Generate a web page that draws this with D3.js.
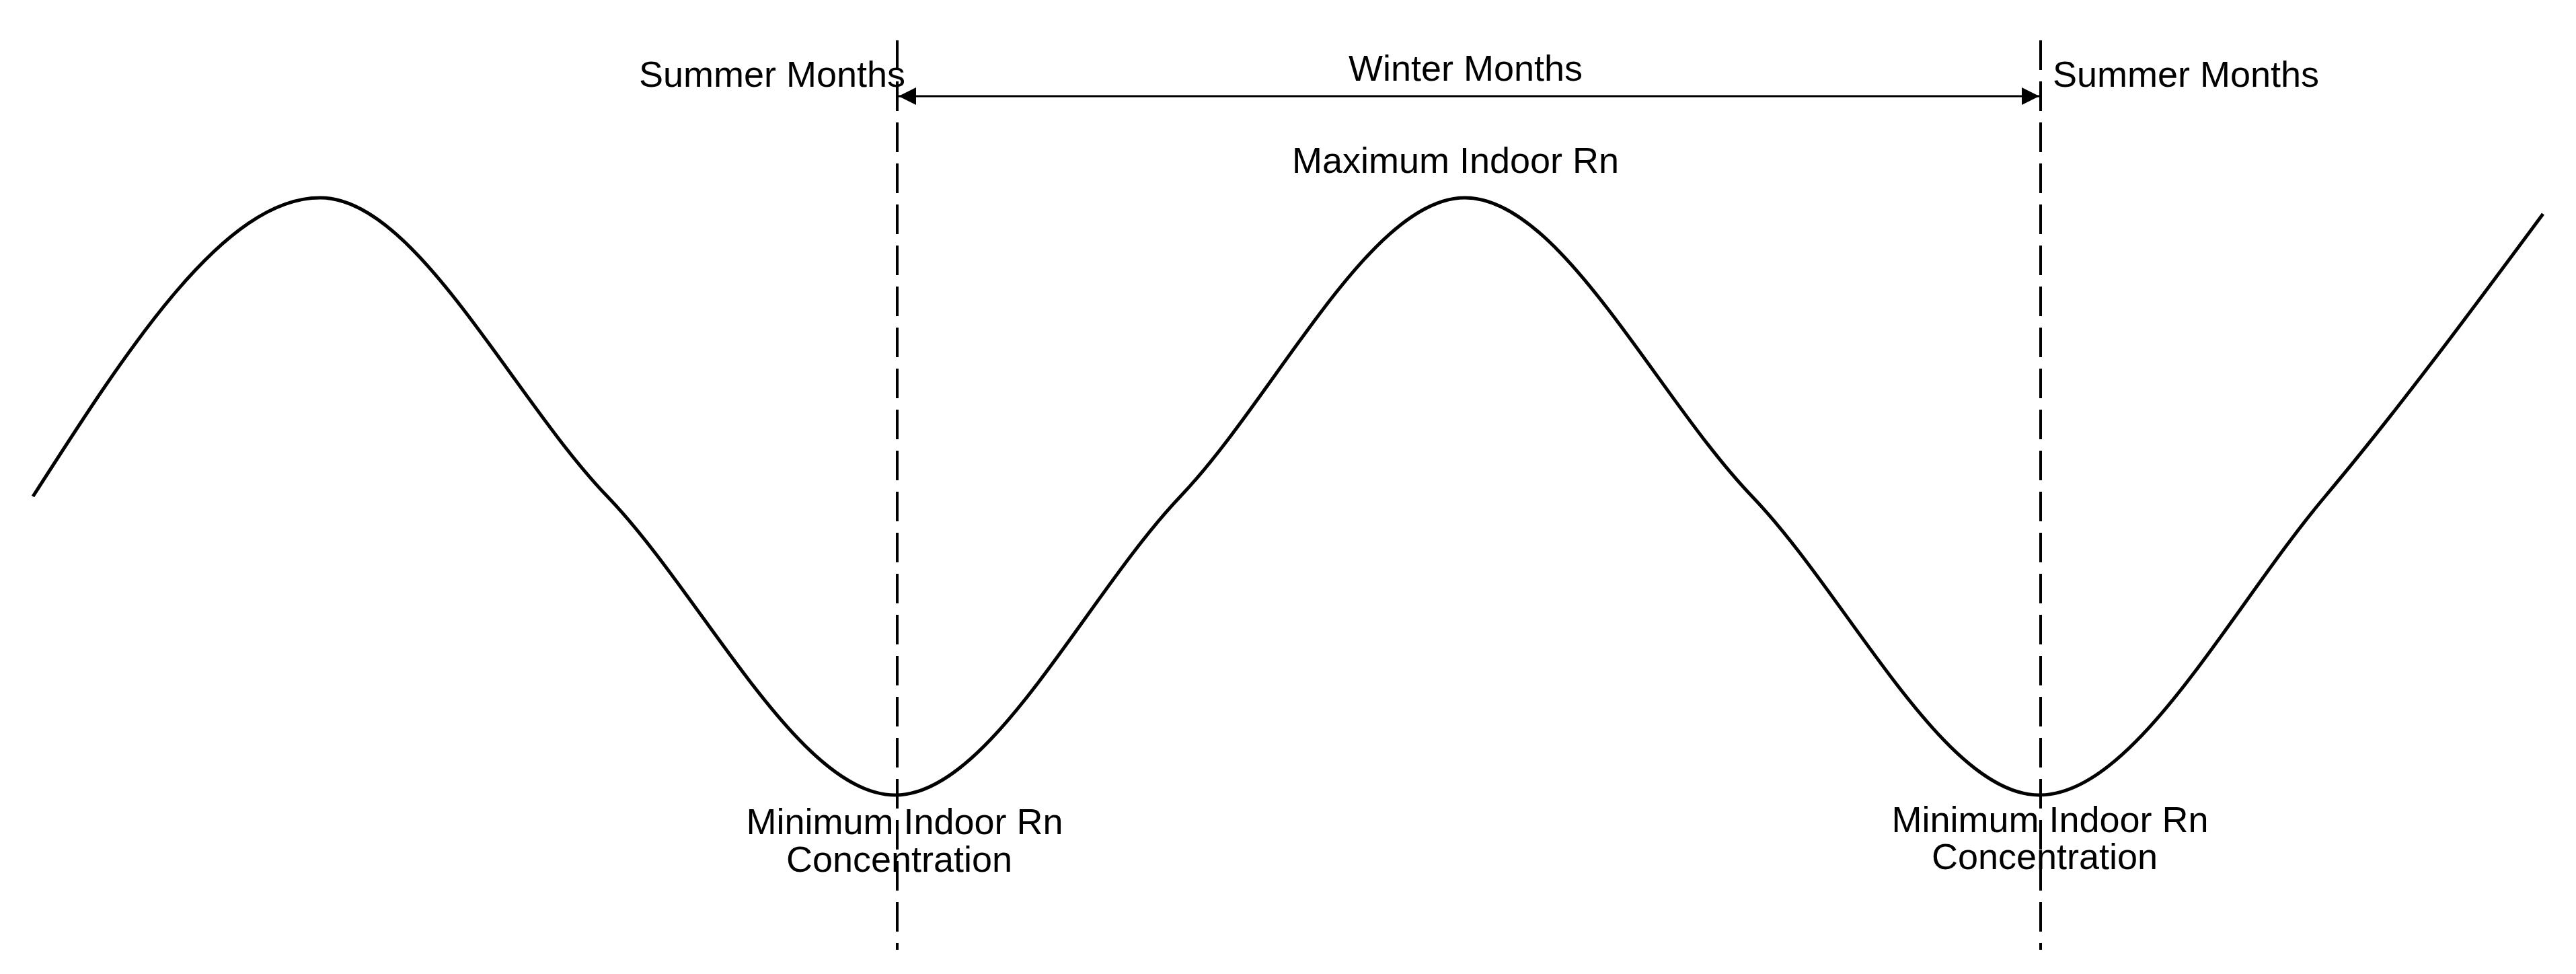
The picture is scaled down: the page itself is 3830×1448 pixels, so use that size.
<!DOCTYPE html>
<html>
<head>
<meta charset="utf-8">
<script src="https://cdn.jsdelivr.net/npm/d3@7"></script>
<style>
  html, body { margin: 0; padding: 0; background: #fff; }
  text { font-family: "Liberation Sans", Arial, sans-serif; font-size: 54px; fill: #000; }
</style>
</head>
<body>
<svg width="3830" height="1448"></svg>
<script>
let svg = d3.select("svg");

// seasonal indoor Rn curve (time position, relative level 0 = min, 1 = max)
let times = [49, 476, 903, 1331, 1755, 2178, 2605, 3032, 3457, 3781];
let levels = [0.5, 1, 0.5, 0, 0.5, 1, 0.5, 0, 0.5, 0.973];

// season boundaries (minimum Rn)
let boundaries = [1334, 3034];

let x = d3.scaleLinear().domain([0, 3830]).range([0, 3830]);
let y = d3.scaleLinear().domain([0, 1]).range([1182, 294]);

let defs = svg.append("defs");
defs.append("marker")
  .attr("id", "head")
  .attr("viewBox", "0 0 10 10")
  .attr("refX", 10)
  .attr("refY", 5)
  .attr("markerUnits", "userSpaceOnUse")
  .attr("markerWidth", 26)
  .attr("markerHeight", 26)
  .attr("orient", "auto-start-reverse")
  .append("path")
  .attr("d", "M0,0 L10,5 L0,10 Z")
  .attr("fill", "#000");

//dashed boundaries
svg.selectAll("line.bound")
  .data(boundaries)
  .enter()
  .append("line")
  .attr("class", "bound")
  .attr("x1", d => x(d))
  .attr("x2", d => x(d))
  .attr("y1", 60)
  .attr("y2", 1412)
  .attr("stroke", "#000")
  .attr("stroke-width", 4)
  .attr("stroke-dasharray", "44,17");

//curve
let line = d3.line()
  .x((d, i) => x(times[i]))
  .y(d => y(d))
  .curve(d3.curveMonotoneX);

svg.append("path")
  .attr("d", line(levels))
  .attr("fill", "none")
  .attr("stroke", "#000")
  .attr("stroke-width", 5);

//winter arrow
svg.append("line")
  .attr("x1", x(boundaries[0]) + 2)
  .attr("x2", x(boundaries[1]) - 2)
  .attr("y1", 143)
  .attr("y2", 143)
  .attr("stroke", "#000")
  .attr("stroke-width", 3)
  .attr("marker-start", "url(#head)")
  .attr("marker-end", "url(#head)");

//labels
let labels = [
  { t: "Summer Months", x: 1148, y: 129 },
  { t: "Winter Months", x: 2179, y: 120 },
  { t: "Summer Months", x: 3250, y: 129 },
  { t: "Maximum Indoor Rn", x: 2164, y: 257 },
  { t: "Minimum Indoor Rn", x: 1345, y: 1240 },
  { t: "Concentration", x: 1337, y: 1296 },
  { t: "Minimum Indoor Rn", x: 3048, y: 1237 },
  { t: "Concentration", x: 3040, y: 1292 }
];

svg.selectAll("text")
  .data(labels)
  .enter()
  .append("text")
  .attr("x", d => d.x)
  .attr("y", d => d.y)
  .attr("text-anchor", "middle")
  .text(d => d.t);
</script>
</body>
</html>
